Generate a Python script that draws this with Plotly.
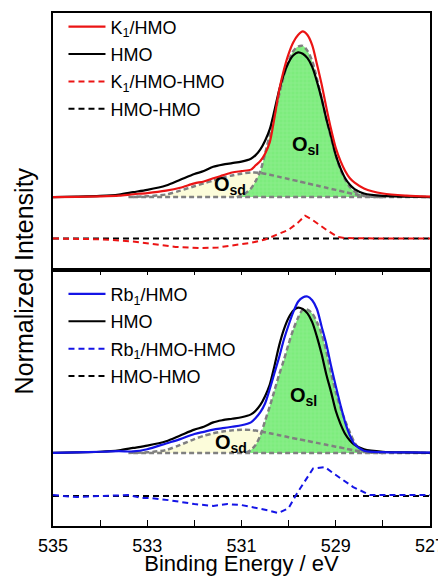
import plotly.graph_objects as go
from plotly.subplots import make_subplots

# ---------------- data ----------------
E_SPEC = [535.0, 534.5, 534.0, 533.6, 533.3, 533.0, 532.6, 532.3, 532.0, 531.8,
          531.6, 531.4, 531.2, 531.0, 530.8, 530.7, 530.6, 530.5, 530.4, 530.3,
          530.2, 530.1, 530.0, 529.9, 529.8, 529.7, 529.6, 529.5, 529.4, 529.3,
          529.2, 529.1, 529.0, 528.9, 528.8, 528.7, 528.6, 528.4, 528.0, 527.5, 527.0]
HMO = [0.0, 0.003, 0.008, 0.018, 0.034, 0.05, 0.08, 0.12, 0.16, 0.18,
       0.21, 0.225, 0.235, 0.245, 0.265, 0.29, 0.33, 0.39, 0.47, 0.60,
       0.74, 0.85, 0.93, 0.98, 1.0, 0.99, 0.96, 0.90, 0.80, 0.68,
       0.54, 0.42, 0.29, 0.20, 0.13, 0.085, 0.055, 0.025, 0.008, 0.003, 0.0]
K1_HMO = [0.0, 0.002, 0.005, 0.01, 0.02, 0.028, 0.045, 0.065, 0.095, 0.108,
          0.13, 0.15, 0.17, 0.18, 0.19, 0.22, 0.25, 0.30, 0.38, 0.55,
          0.74, 0.88, 0.99, 1.07, 1.12, 1.145, 1.12, 1.05, 0.92, 0.78,
          0.62, 0.47, 0.34, 0.25, 0.18, 0.13, 0.10, 0.06, 0.025, 0.01, 0.004]
RB1_HMO = [0.0, 0.003, 0.008, 0.012, 0.01, 0.025, 0.065, 0.095, 0.13, 0.145,
           0.16, 0.17, 0.18, 0.19, 0.21, 0.24, 0.28, 0.34, 0.44, 0.55,
           0.66, 0.78, 0.88, 0.97, 1.04, 1.07, 1.076, 1.05, 0.99, 0.87,
           0.75, 0.60, 0.46, 0.33, 0.21, 0.12, 0.06, 0.015, 0.005, 0.003, 0.002]

# fitted components
E_SD = [533.4, 533.0, 532.6, 532.3, 532.0, 531.8, 531.6, 531.4, 531.2, 531.0,
        530.8, 530.6, 530.4, 530.2, 530.0, 529.8, 529.6, 529.4, 529.2, 529.0,
        528.8, 528.6, 528.4, 528.2, 528.0]
OSD_TOP = [0.0, 0.006, 0.018, 0.045, 0.075, 0.095, 0.115, 0.135, 0.15, 0.162,
           0.17, 0.168, 0.155, 0.14, 0.125, 0.11, 0.095, 0.08, 0.065, 0.05,
           0.035, 0.02, 0.008, 0.002, 0.0]
OSD_BOT = [0.0, 0.004, 0.02, 0.055, 0.095, 0.118, 0.135, 0.147, 0.155, 0.16,
           0.158, 0.148, 0.135, 0.122, 0.108, 0.095, 0.082, 0.069, 0.056, 0.043,
           0.03, 0.017, 0.006, 0.001, 0.0]
E_SL_TOP = [531.1, 531.0, 530.9, 530.8, 530.7, 530.6, 530.5, 530.4, 530.3, 530.2,
            530.1, 530.0, 529.9, 529.8, 529.7, 529.6, 529.5, 529.4, 529.3, 529.2,
            529.1, 529.0, 528.9, 528.8, 528.7, 528.6, 528.4, 528.2, 528.0]
OSL_TOP = [0.0, 0.01, 0.03, 0.06, 0.11, 0.18, 0.30, 0.43, 0.57, 0.71,
           0.84, 0.94, 1.01, 1.04, 1.045, 1.01, 0.94, 0.82, 0.68, 0.54,
           0.41, 0.29, 0.19, 0.12, 0.07, 0.04, 0.012, 0.003, 0.0]
E_SL_BOT = [530.9, 530.8, 530.7, 530.6, 530.5, 530.4, 530.3, 530.2, 530.1, 530.0,
            529.9, 529.8, 529.7, 529.6, 529.5, 529.4, 529.3, 529.2, 529.1, 529.0,
            528.9, 528.8, 528.7, 528.6, 528.5, 528.4, 528.2]
OSL_BOT = [0.0, 0.02, 0.055, 0.12, 0.22, 0.32, 0.43, 0.54, 0.64, 0.75,
           0.85, 0.93, 0.985, 0.985, 0.96, 0.90, 0.82, 0.70, 0.55, 0.42,
           0.31, 0.22, 0.14, 0.07, 0.03, 0.01, 0.0]
E_BASE = [533.3, 527.0]
BASE = [0.0, 0.0]

# difference spectra
E_DK = [535.0, 534.0, 533.3, 532.8, 532.4, 531.9, 531.5, 531.2, 530.8, 530.5,
        530.2, 530.0, 529.8, 529.65, 529.5, 529.2, 528.95, 528.8, 528.0, 527.0]
DIFF_K1 = [0.0, -0.005, -0.02, -0.04, -0.058, -0.066, -0.062, -0.048, -0.03, -0.007,
           0.03, 0.06, 0.11, 0.158, 0.13, 0.06, 0.01, 0.003, 0.0, 0.0]
E_DR = [535.0, 534.5, 534.0, 533.4, 533.1, 532.9, 532.5, 532.0, 531.6, 531.3,
        531.0, 530.75, 530.45, 530.22, 530.0, 529.82, 529.61, 529.48, 529.23, 529.06,
        528.63, 528.27, 528.0, 527.0]
DIFF_RB1 = [0.007, -0.007, 0.0, 0.007, -0.014, -0.014, -0.03, -0.055, -0.068, -0.055,
            -0.062, -0.076, -0.097, -0.117, -0.083, 0.02, 0.13, 0.19, 0.20, 0.159,
            0.062, 0.007, 0.007, 0.007]
E_HH = [535.0, 527.0]
DIFF_HMO = [0.0, 0.0]

OFFSET_TOP = -0.286
OFFSET_BOT = -0.297

X_TICKS = [535, 533, 531, 529, 527]

# ---------------- figure ----------------
FONT = "Liberation Sans, Arial, sans-serif"
GREEN = "rgb(125,236,125)"
YELLOW = "rgb(252,252,218)"
GRAY = "rgb(128,128,128)"

fig = make_subplots(rows=2, cols=1, shared_xaxes=True, vertical_spacing=0)


def add_panel(row, sample, sample_name, color, diff, e_diff, osd, e_sl, osl, offset, legend):
    # fills
    fig.add_trace(go.Scatter(x=E_SD, y=osd, mode="lines", line=dict(width=0, shape="spline"),
                             fill="tozeroy", fillcolor=YELLOW, showlegend=False,
                             hoverinfo="skip"), row=row, col=1)
    fig.add_trace(go.Scatter(x=e_sl, y=osl, mode="lines", line=dict(width=0, shape="spline"),
                             fill="tozeroy", fillcolor=GREEN,
                             fillpattern=dict(shape="+", bgcolor=GREEN, fgcolor="rgba(255,255,255,0.55)",
                                              size=4, solidity=0.15),
                             showlegend=False, hoverinfo="skip"), row=row, col=1)
    # component outlines
    for xs, ys in ((E_SD, osd), (e_sl, osl), (E_BASE, BASE)):
        fig.add_trace(go.Scatter(x=xs, y=ys, mode="lines",
                                 line=dict(color=GRAY, width=2.5, dash="5px,3px", shape="spline",
                                           smoothing=0.8),
                                 showlegend=False, hoverinfo="skip"), row=row, col=1)
    # spectra
    fig.add_trace(go.Scatter(x=E_SPEC, y=HMO, mode="lines", name="HMO",
                             line=dict(color="black", width=2.2, shape="spline", smoothing=0.8),
                             legend=legend, legendrank=2, legendgroup=f"h{row}"), row=row, col=1)
    fig.add_trace(go.Scatter(x=E_SPEC, y=sample, mode="lines", name=sample_name,
                             line=dict(color=color, width=2.2, shape="spline", smoothing=0.8),
                             legend=legend, legendrank=1, legendgroup=f"s{row}"), row=row, col=1)
    # differences
    fig.add_trace(go.Scatter(x=E_HH, y=[v + offset for v in DIFF_HMO], mode="lines", name="HMO-HMO",
                             line=dict(color="black", width=2, dash="6px,4px"),
                             legend=legend, legendrank=4, legendgroup=f"hh{row}"), row=row, col=1)
    fig.add_trace(go.Scatter(x=e_diff, y=[v + offset for v in diff], mode="lines",
                             name=sample_name + "-HMO",
                             line=dict(color=color, width=2, dash="6px,4px"),
                             legend=legend, legendrank=3, legendgroup=f"d{row}"), row=row, col=1)


add_panel(1, K1_HMO, "K<sub>1</sub>/HMO", "rgb(235,20,20)", DIFF_K1, E_DK,
          OSD_TOP, E_SL_TOP, OSL_TOP, OFFSET_TOP, "legend")
add_panel(2, RB1_HMO, "Rb<sub>1</sub>/HMO", "rgb(20,20,230)", DIFF_RB1, E_DR,
          OSD_BOT, E_SL_BOT, OSL_BOT, OFFSET_BOT, "legend2")

# component labels
labels = [(1, 529.64, 0.36, "sl"), (1, 531.25, 0.077, "sd"),
          (2, 529.68, 0.385, "sl"), (2, 531.22, 0.068, "sd")]
for row, xe, yv, sub in labels:
    fig.add_annotation(x=xe, y=yv, xref="x" if row == 1 else "x2", yref="y" if row == 1 else "y2",
                       text=f"<b>O<sub>{sub}</sub></b>", showarrow=False,
                       font=dict(family=FONT, size=20, color="black"))

fig.add_annotation(x=-0.078, y=0.478, xref="paper", yref="paper", text="Normalized Intensity",
                   xanchor="center", yanchor="middle",
                   textangle=-90, showarrow=False, font=dict(family=FONT, size=25, color="black"))

axis_line = dict(showline=True, linecolor="black", linewidth=1.5, mirror=True,
                 showgrid=False, zeroline=False)
fig.update_xaxes(range=[535, 527], automargin=False, **axis_line)
fig.update_xaxes(row=1, col=1, ticks="", showticklabels=False)
fig.update_xaxes(row=2, col=1, ticks="inside", ticklen=6, tickwidth=1.3, tickcolor="black",
                 mirror="ticks", tickvals=X_TICKS, ticktext=[str(t) for t in X_TICKS],
                 minor=dict(dtick=1, tick0=527, ticks="inside", ticklen=6, tickwidth=1.3,
                            tickcolor="black", showgrid=False),
                 tickfont=dict(family=FONT, size=18, color="black"), ticklabeloverflow="allow",
                 ticklabelstandoff=3,
                 title=dict(text="Binding Energy / eV", font=dict(family=FONT, size=22, color="black"),
                            standoff=11))
fig.update_yaxes(showticklabels=False, ticks="", automargin=False, **axis_line)
fig.update_yaxes(row=1, col=1, range=[-0.5, 1.272])
fig.update_yaxes(row=2, col=1, range=[-0.503, 1.262])

legend_style = dict(font=dict(family=FONT, size=18, color="black"), bgcolor="rgba(0,0,0,0)",
                    xanchor="left", yanchor="top", traceorder="grouped", tracegroupgap=1,
                    itemwidth=37)
# the page body keeps an 8 px default margin (figure shifted 8 px right and down),
# so the figure is 8 px smaller and only the left/top margins are reduced by 8 px
fig.update_layout(
    width=438, height=568,
    margin=dict(l=44.5, r=16, t=5, b=50, autoexpand=False),
    paper_bgcolor="white", plot_bgcolor="white",
    hovermode=False,
    legend=dict(x=0.0278, y=1.009, **legend_style),
    legend2=dict(x=0.0278, y=0.488, **legend_style),
)

fig.write_html("out.html", config={"displayModeBar": False})
